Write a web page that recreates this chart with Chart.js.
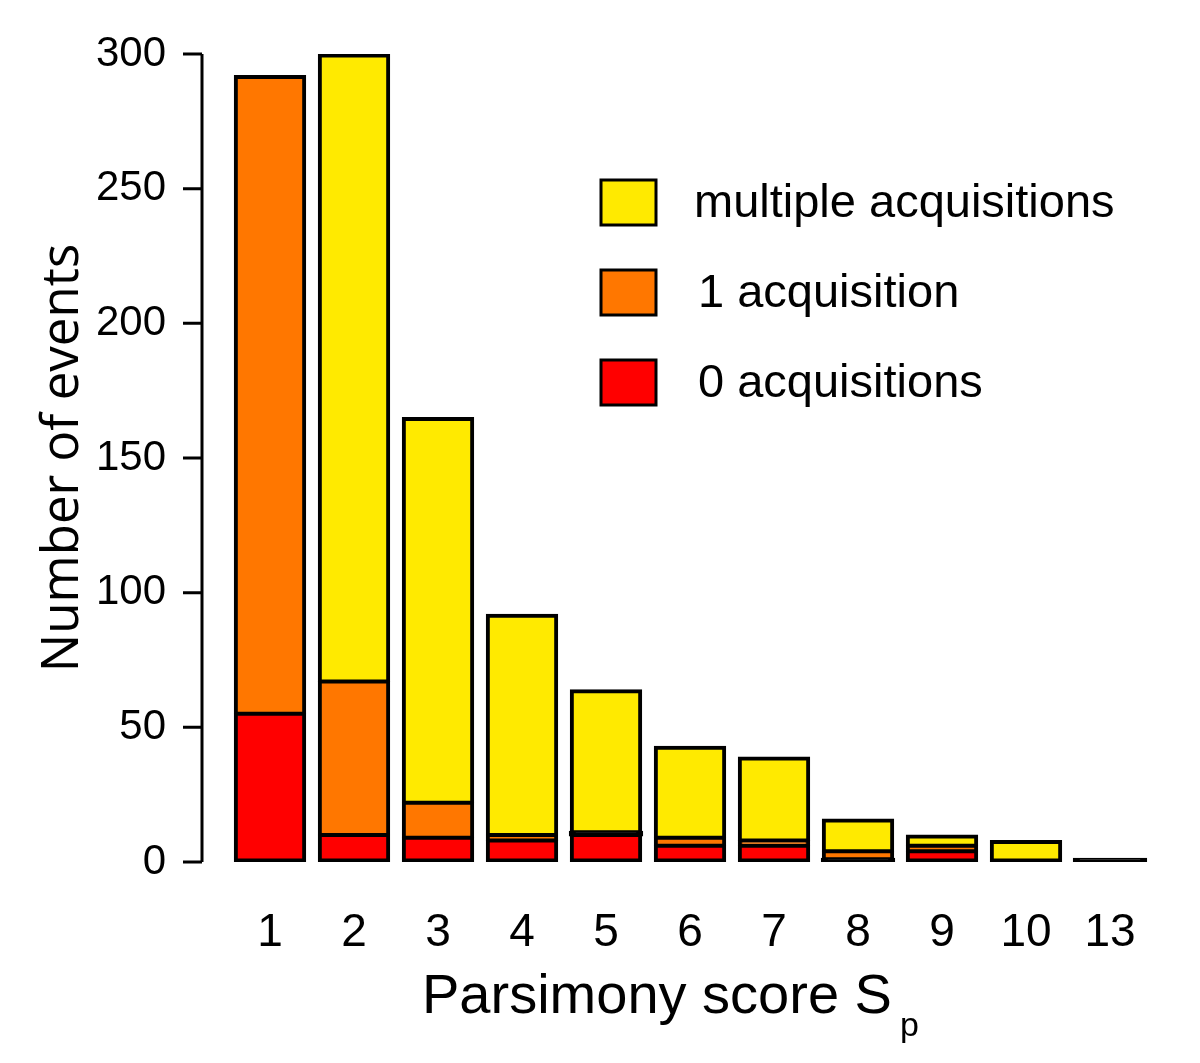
<!DOCTYPE html>
<html>
<head>
<meta charset="utf-8">
<script src="https://cdn.jsdelivr.net/npm/chart.js@4/dist/chart.umd.min.js"></script>
<style>
  html, body { margin: 0; padding: 0; background: #fff; }
  #wrap { width: 1200px; height: 1063px; }
</style>
</head>
<body>
<div id="wrap"><canvas id="myChart" width="1200" height="1063"></canvas></div>
<script>
// parsimony score categories
var scores = ['1', '2', '3', '4', '5', '6', '7', '8', '9', '10', '13'];

// events per score, split by number of acquisitions
var zeroAcq     = [55, 10,   9,  8, 10,  6,  6,  1, 4, 0, 0];
var oneAcq      = [237, 57, 13,  2,  1,  3,  2,  3, 2, 0, 0];
var multipleAcq = [0, 233, 143, 82, 53, 34, 31, 12, 4, 8, 1];

var yTicks = [0, 50, 100, 150, 200, 250, 300];

var seriesNames = ['0 acquisitions', '1 acquisition', 'multiple acquisitions'];
var seriesColors = ['#ff0000', '#ff7700', '#ffea00'];
var stackData = [zeroAcq, oneAcq, multipleAcq];

// heavier outline on the outside of each stack, thinner where segments meet
function segmentBorder(c) {
  var d = c.datasetIndex, i = c.dataIndex;
  var above = 0, below = 0;
  for (var k = 0; k < stackData.length; k++) {
    if (k > d) above += stackData[k][i];
    if (k < d) below += stackData[k][i];
  }
  return {
    left: 4,
    right: 4,
    top: above === 0 ? 4 : 2.5,
    bottom: below === 0 ? 4 : 2.5
  };
}

// single-event slivers are all outline in the original
function segmentFill(c) {
  return c.raw > 0 && c.raw < 2 ? '#000' : seriesColors[c.datasetIndex];
}

// axis line + tick marks on the left, legend and x title with subscript
var extras = {
  id: 'extras',
  afterDraw: function(chart) {
    var ctx = chart.ctx;
    var y = chart.scales.y;
    var axisX = 202;

    ctx.save();
    ctx.strokeStyle = '#000';
    ctx.lineWidth = 3;
    ctx.beginPath();
    ctx.moveTo(axisX, y.getPixelForValue(0));
    ctx.lineTo(axisX, y.getPixelForValue(300));
    yTicks.forEach(function(v) {
      var py = y.getPixelForValue(v);
      ctx.moveTo(axisX, py);
      ctx.lineTo(183, py);
    });
    ctx.stroke();

    // legend (top entry first, as in the stack)
    var rows = [2, 1, 0];
    ctx.font = '47px "Liberation Sans", Arial, sans-serif';
    ctx.textBaseline = 'middle';
    ctx.textAlign = 'left';
    rows.forEach(function(idx, i) {
      var top = 180 + i * 90;
      ctx.fillStyle = seriesColors[idx];
      ctx.fillRect(601, top, 55, 45);
      ctx.lineWidth = 3;
      ctx.strokeStyle = '#000';
      ctx.strokeRect(601, top, 55, 45);
      ctx.fillStyle = '#000';
      ctx.fillText(seriesNames[idx], idx === 2 ? 694 : 698, top + 24);
    });

    // x axis title: Parsimony score S_p
    ctx.textBaseline = 'alphabetic';
    ctx.font = '56px "Liberation Sans", Arial, sans-serif';
    var main = 'Parsimony score S';
    ctx.fillText(main, 422, 1013);
    var w = ctx.measureText(main).width;
    ctx.font = '34px "Liberation Sans", Arial, sans-serif';
    ctx.fillText('p', 422 + w + 8, 1036);
    ctx.restore();
  }
};

var datasets = stackData.map(function(values, i) {
  return {
    label: seriesNames[i],
    data: values,
    backgroundColor: segmentFill,
    borderColor: '#000',
    borderWidth: segmentBorder,
    borderSkipped: false,
    inflateAmount: function(c) { return c.raw > 0 && c.raw < 2 ? 1.5 : 0.5; },
    barPercentage: 0.85,
    categoryPercentage: 1.0
  };
});

var ctx = document.getElementById('myChart');
var myChart = new Chart(ctx, {
  type: 'bar',
  data: { labels: scores, datasets: datasets },
  options: {
    responsive: false,
    animation: false,
    layout: { padding: { top: 54, right: 48, left: 0, bottom: 0 } },
    plugins: {
      legend: { display: false },
      tooltip: { enabled: false }
    },
    scales: {
      x: {
        stacked: true,
        grid: { display: false, drawTicks: false },
        border: { display: false },
        afterFit: function(scale) { scale.height = 201; },
        ticks: {
          padding: 44,
          color: '#000',
          font: { family: '"Liberation Sans Narrow", "Liberation Sans", Arial, sans-serif', size: 46 }
        }
      },
      y: {
        stacked: true,
        min: 0,
        max: 300,
        afterFit: function(scale) {
          scale.width = 228;
          scale.paddingTop = 0;
          scale.paddingBottom = 0;
        },
        afterBuildTicks: function(scale) {
          scale.ticks = yTicks.map(function(v) { return { value: v }; });
        },
        grid: { display: false, drawTicks: false },
        border: { display: false },
        ticks: {
          padding: 62,
          color: '#000',
          font: { family: '"Liberation Sans", Arial, sans-serif', size: 42 }
        },
        title: {
          display: true,
          text: 'Number of events',
          color: '#000',
          padding: { top: 33 },
          font: { family: '"Open Sans", sans-serif', size: 51 }
        }
      }
    }
  },
  plugins: [extras]
});
</script>
</body>
</html>
